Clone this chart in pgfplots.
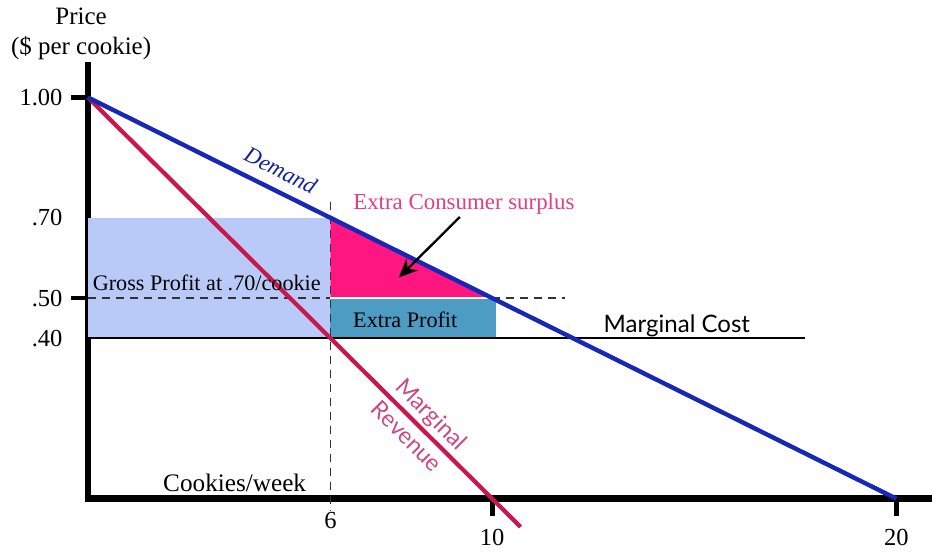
\documentclass[border=0pt]{standalone}
\usepackage{fontspec}
\setmainfont{Liberation Serif}
\newfontfamily\avenir{Lato}
\usepackage{pgfplots}
\pgfplotsset{compat=1.18}
\usetikzlibrary{arrows.meta}

\definecolor{demblue}{RGB}{24,40,182}
\definecolor{mrred}{RGB}{200,22,78}
\definecolor{grossblue}{RGB}{186,202,248}
\definecolor{hotpink}{RGB}{255,22,128}
\definecolor{tealbox}{RGB}{76,156,196}
\definecolor{pinktext}{RGB}{226,62,132}
\definecolor{mrtext}{RGB}{204,72,132}

\begin{document}
\begin{tikzpicture}
\begin{axis}[
    scale only axis, width=12.66cm, height=6.525cm,
    xmin=0, xmax=20.8, ymin=0, ymax=1.08,
    axis lines=left, axis line style={-, line width=2.8pt, line cap=rect},
    clip=false,
    tick align=outside, major tick length=0.26cm,
    tick style={line width=2pt, black},
    ticklabel style={font=\fontsize{10.5}{12}\selectfont},
    xtick={10,20}, xticklabels={10,20},
    xticklabel style={yshift=-0.08cm},
    extra x ticks={6}, extra x tick labels={6},
    extra x tick style={major tick length=0pt, major tick style={draw=none}},
    ytick={0.5,1}, yticklabels={.50,1.00},
    extra y ticks={0.4,0.7}, extra y tick labels={.40,.70},
    extra y tick style={major tick style={draw=none}},
]
% shaded areas
\addplot[fill=grossblue, draw=none] coordinates {(0,0.4) (6,0.4) (6,0.7) (0,0.7)} -- cycle;
\addplot[fill=hotpink, draw=none] coordinates {(6,0.5) (10,0.5) (6,0.7)} -- cycle;
\addplot[fill=tealbox, draw=none] coordinates {(6,0.4) (10.1,0.4) (10.1,0.5) (6,0.5)} -- cycle;
\addplot[white, line width=0.8pt] coordinates {(6,0.5) (10,0.5)};

% guide lines
\addplot[black!80, line width=0.7pt, dash pattern=on 3.5pt off 2.5pt] coordinates {(0,0.5) (6,0.5)};
\addplot[black!80, line width=0.7pt, dash pattern=on 3.5pt off 2.5pt] coordinates {(10,0.5) (11.8,0.5)};
\addplot[black!80, line width=0.7pt, dash pattern=on 3.5pt off 2.5pt] coordinates {(6,0.74) (6,-0.03)};

% curves
\addplot[black, line width=0.9pt] coordinates {(0,0.4) (17.73,0.4)};
\addplot[mrred, line width=1.8pt] coordinates {(0,1) (10.7,-0.07)};
\addplot[demblue, line width=1.9pt] coordinates {(0,1) (20,0)};

% labels
\node[font=\fontsize{10.7}{12.8}\selectfont, align=center] at (axis cs:-0.17,1.159) {Price\\(\$ per cookie)};
\node[font=\fontsize{9.5}{11}\selectfont] at (axis cs:2.94,0.537) {Gross Profit at .70/cookie};
\node[font=\fontsize{9.5}{11}\selectfont] at (axis cs:7.85,0.447) {Extra Profit};
\node[font=\fontsize{9.8}{11}\selectfont, text=pinktext] at (axis cs:9.30,0.734) {Extra Consumer surplus};
\node[font=\avenir\fontsize{10.3}{12}\selectfont] at (axis cs:14.57,0.4305) {Marginal Cost};
\node[font=\fontsize{10.8}{12}\selectfont] at (axis cs:3.63,0.040) {Cookies/week};
\node[font=\itshape\fontsize{9.8}{11}\selectfont, text=demblue!85!black, rotate=-26.5] at (axis cs:4.77,0.819) {Demand};
\node[font=\avenir\fontsize{10}{12}\selectfont, text=mrtext, rotate=-45, inner sep=0pt] at (axis cs:8.48,0.208) {Marginal};
\node[font=\avenir\fontsize{10}{12}\selectfont, text=mrtext, rotate=-45, inner sep=0pt] at (axis cs:7.89,0.156) {Revenue};
\draw[-{Stealth[length=8pt,width=7pt]}, line width=1pt] (axis cs:9.2,0.702) -- (axis cs:7.69,0.551);

% picture frame
\path (axis cs:-2.175,-0.124) rectangle (axis cs:20.87,1.2407);
\end{axis}
\end{tikzpicture}
\end{document}
